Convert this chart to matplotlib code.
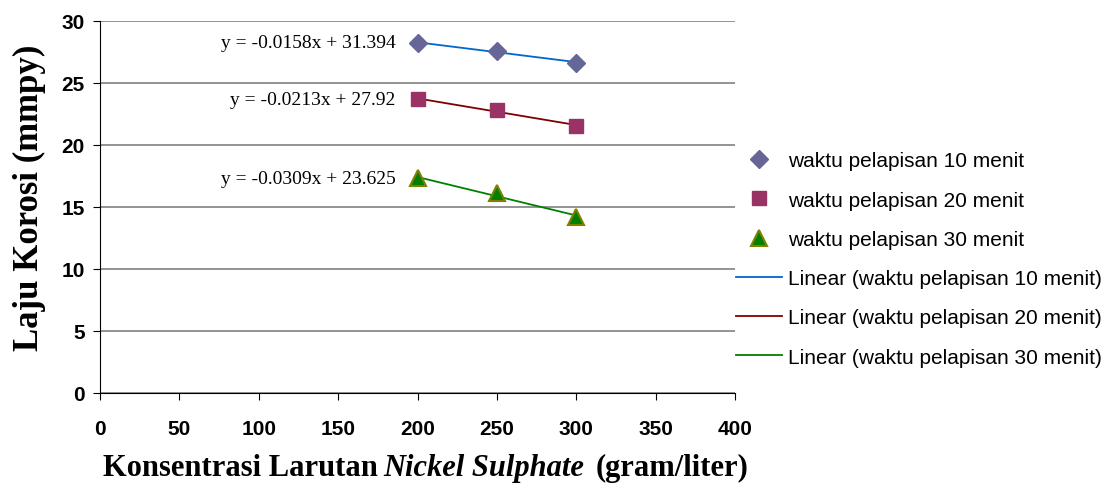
import numpy as np
import matplotlib
matplotlib.use("Agg")
import matplotlib.pyplot as plt

konsentrasi = [200, 250, 300]
laju_10 = [28.25, 27.55, 26.65]
laju_20 = [23.7, 22.8, 21.55]
laju_30 = [17.3, 16.1, 14.2]
labels_pts = ["waktu pelapisan 10 menit", "waktu pelapisan 20 menit", "waktu pelapisan 30 menit"]
labels_fit = ["Linear (waktu pelapisan 10 menit)", "Linear (waktu pelapisan 20 menit)",
              "Linear (waktu pelapisan 30 menit)"]
equations = ["y = -0.0158x + 31.394", "y = -0.0213x + 27.92", "y = -0.0309x + 23.625"]
x_ticks = [0, 50, 100, 150, 200, 250, 300, 350, 400]
y_ticks = [0, 5, 10, 15, 20, 25, 30]

W, H = 1106, 489
fig = plt.figure(figsize=(W / 100, H / 100), dpi=100)
ax = fig.add_axes([100/W, 1-394/H, 635/W, 372/H])

series = [laju_10, laju_20, laju_30]
mstyles = [dict(marker="D", color="#666699", mec="#666699", ms=9),
           dict(marker="s", color="#993366", mec="#993366", ms=10),
           dict(marker="^", color="#008000", mec="#808000", ms=11, mew=1.5)]
lcolors = ["#0066CC", "#800000", "#008000"]

pt_handles = []
fit_handles = []
x = np.array(konsentrasi, dtype=float)
for ys, ms, lc, lab, flab, eq in zip(series, mstyles, lcolors, labels_pts, labels_fit, equations):
    coef = np.polyfit(x, ys, 1)
    fx = np.array([x.min(), x.max()])
    fl, = ax.plot(fx, np.polyval(coef, fx), color=lc, lw=1.3, label=flab, zorder=3)
    pl, = ax.plot(x, ys, linestyle="none", label=lab, zorder=4, **ms)
    pt_handles.append(pl)
    fit_handles.append(fl)
    ax.text(x[0] - 14, ys[0], eq, ha="right", va="center", fontsize=14,
            family="Liberation Serif")

ax.set_xlim(0, 400)
ax.set_ylim(0, 30)
ax.set_xticks(x_ticks)
ax.set_yticks(y_ticks)
ax.yaxis.grid(True, color="#808080", lw=1.2)
ax.set_axisbelow(True)
for s in ["top", "right"]:
    ax.spines[s].set_visible(False)
ax.spines["left"].set_color("black")
ax.spines["bottom"].set_color("black")
ax.tick_params(axis="both", direction="out", length=5, labelsize=15)
ax.tick_params(axis="x", pad=14)
ax.tick_params(axis="y", pad=6)
for t in ax.get_xticklabels() + ax.get_yticklabels():
    t.set_fontfamily("Liberation Sans")
    t.set_fontweight("bold")

ax.set_ylabel("Laju Korosi (mmpy)", fontsize=25, fontweight="bold",
              family="Liberation Serif")
ax.yaxis.set_label_coords(-(100 - 46) / 635, (394 - 198) / 372)

# x label built from three pieces (regular bold / bold italic / regular bold)
t1 = fig.text(103/W, 1-483/H, "Konsentrasi Larutan", fontsize=22, fontweight="bold",
              family="Liberation Serif", ha="left", va="bottom")
t2 = fig.text(0, 0, "Nickel Sulphate", fontsize=22, fontweight="bold", style="italic",
              family="Liberation Serif", ha="left", va="bottom")
t3 = fig.text(0, 0, "(gram/liter)", fontsize=22, fontweight="bold",
              family="Liberation Serif", ha="left", va="bottom")
fig.canvas.draw()
r = fig.canvas.get_renderer()
b1 = t1.get_window_extent(r)
t2.set_x((b1.x1 + 5) / W)
t2.set_y(b1.y0 / H)
b2 = t2.get_window_extent(r)
t3.set_x((b2.x1 + 12) / W)
t3.set_y(b1.y0 / H)

fig.legend(handles=pt_handles + fit_handles, loc="center left",
           bbox_to_anchor=(736/W, 1-260/H), frameon=False,
           prop={"family": "Liberation Sans", "size": 15},
           labelspacing=0.97, handlelength=2.2, handletextpad=0.3, borderaxespad=0,
           borderpad=0)

fig.savefig("out.png", dpi=100)
